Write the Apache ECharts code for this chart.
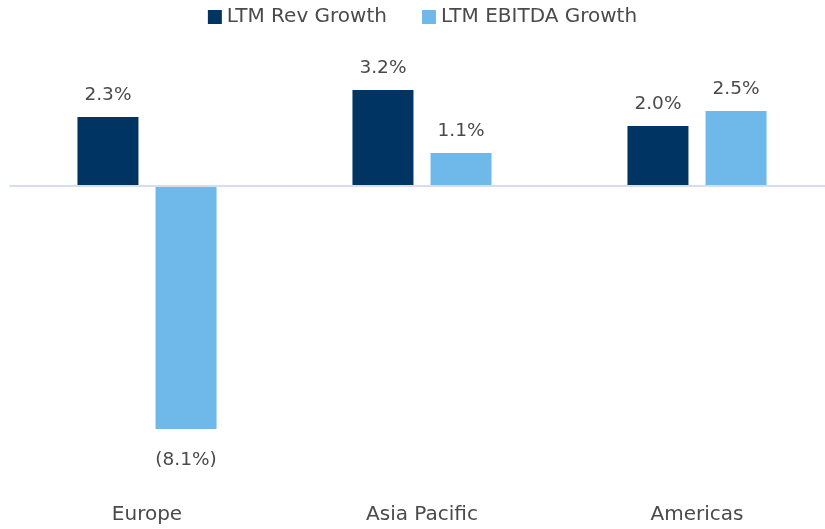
<!DOCTYPE html>
<html>
<head>
<meta charset="utf-8">
<script src="https://cdn.jsdelivr.net/npm/echarts@6/dist/echarts.min.js"></script>
<style>
  html, body { margin: 0; padding: 0; background: #fff; overflow: hidden; }
  #chart { width: 845px; height: 529px; }
</style>
</head>
<body>
<div id="chart"></div>
<script>
// regions and growth values (%)
var regions = ['Europe', 'Asia Pacific', 'Americas'];
var revGrowth = [2.3, 3.2, 2.0];
var ebitdaGrowth = [-8.1, 1.1, 2.5];

var font = '"DejaVu Sans", sans-serif';

function pct(p) {
    var v = p.value;
    return v < 0 ? '(' + Math.abs(v).toFixed(1) + '%)' : v.toFixed(1) + '%';
}

var option = {
    animation: false,
    legend: {
        top: 2,
        left: 'center',
        itemWidth: 14,
        itemHeight: 14,
        itemGap: 35,
        icon: 'rect',
        textStyle: { color: '#4a4a4a', fontSize: 20, fontFamily: font }
    },
    // chart div is a bit wider than the window, the plot runs to its right edge
    grid: { left: 9.5, width: 825, top: 36, height: 420 },
    xAxis: {
        type: 'category',
        data: regions,
        axisLine: { show: false },
        axisTick: { show: false },
        axisLabel: { color: '#4a4a4a', fontSize: 20, fontFamily: font, margin: 49 }
    },
    yAxis: {
        type: 'value',
        min: -9,
        max: 5,
        show: false,
        splitLine: { show: false }
    },
    series: [{
        name: 'LTM Rev Growth',
        type: 'bar',
        data: revGrowth,
        barWidth: 61,
        barGap: '28%',
        itemStyle: { color: '#003462' },
        label: { show: true, position: 'top', distance: 12, formatter: pct,
                 color: '#4a4a4a', fontSize: 18.5, fontFamily: font },
        markLine: {
            silent: true,
            symbol: 'none',
            label: { show: false },
            lineStyle: { color: '#D6DEEE', width: 2, type: 'solid' },
            data: [{ yAxis: 0 }]
        }
    }, {
        name: 'LTM EBITDA Growth',
        type: 'bar',
        data: ebitdaGrowth,
        barWidth: 61,
        itemStyle: { color: '#6EB9EA' },
        label: { show: true, position: 'top', distance: 12, formatter: pct,
                 color: '#4a4a4a', fontSize: 18.5, fontFamily: font }
    }]
};

// negative bar: label below
option.series[1].data = ebitdaGrowth.map(function (v) {
    return v < 0 ? { value: v, label: { position: 'bottom', distance: 22 } } : v;
});

var myChart = echarts.init(document.getElementById('chart'));
myChart.setOption(option);
</script>
</body>
</html>
